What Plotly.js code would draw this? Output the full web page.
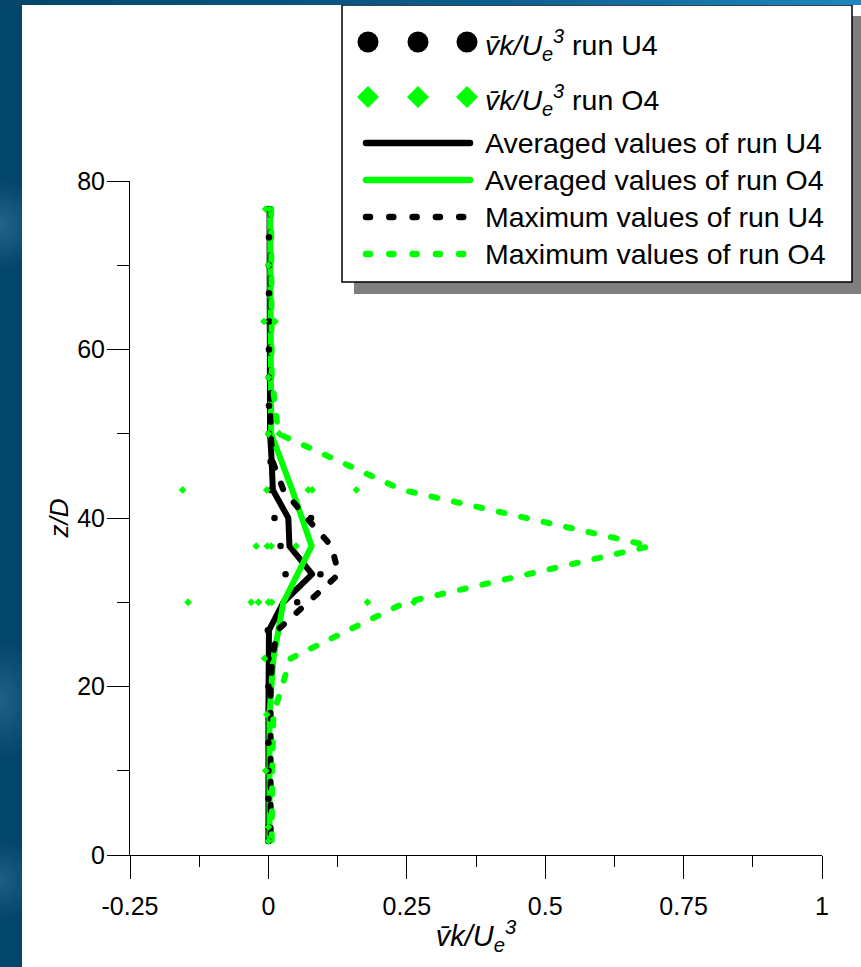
<!DOCTYPE html>
<html><head><meta charset="utf-8">
<script src="https://cdn.plot.ly/plotly-3.0.1.min.js"></script>
<style>
html,body{margin:0;padding:0;}
body{width:861px;height:967px;position:relative;overflow:hidden;
background:
 linear-gradient(to right,#04466b 0%,#0b5c8a 55%,#1c87c0 100%) left top/100% 5px no-repeat,
 radial-gradient(ellipse 40px 45px at 0px 225px,rgba(70,130,170,0.5),rgba(70,130,170,0) 100%) no-repeat,
 radial-gradient(ellipse 40px 60px at 0px 700px,rgba(70,130,170,0.45),rgba(70,130,170,0) 100%) no-repeat,
 radial-gradient(ellipse 40px 40px at 0px 880px,rgba(70,130,170,0.4),rgba(70,130,170,0) 100%) no-repeat,
 #03466b;}
#chart{position:absolute;left:22px;top:5px;width:839px;height:962px;background:#fff;}
</style>
</head><body>
<div id="chart"></div>
<script>
// ---- data ----
const zU4 = [76.67,73.33,70,66.67,63.33,60,56.67,53.33,50,46.67,43.33,40,36.67,33.33,30,26.67,23.33,20,16.67,13.33,10,6.67,3.33,1.67];
const avgU4 = [0.002,0.002,0.002,0.002,0.002,0.002,0.002,0.002,0.003,0.006,0.008,0.036,0.038,0.079,0.027,0.001,0,0,0,0,0,0,0,0];
const maxU4 = [0.004,0.004,0.005,0.005,0.005,0.005,0.005,0.005,0.004,0.008,0.027,0.069,0.114,0.127,0.072,0.016,0.007,0.004,0.004,0.004,0.004,0.004,0.004,0.004];

const zO4 = [76.67,70,63.33,56.67,50,43.33,36.67,30,23.33,16.67,10,3.33,1.67];
const avgO4 = [0.003,0.003,0.003,0.003,0.005,0.043,0.078,0.027,0.009,0.002,0.002,0.002,0.002];
const maxO4 = [0.005,0.006,0.006,0.006,0.018,0.242,0.69,0.248,0.04,0.009,0.007,0.006,0.006];

const ptsU4z = [76.67,73.33,70,66.67,63.33,60,56.67,53.33,50,46.67,43.33,40,40,36.67,33.33,33.33,30,26.67,23.33,20,16.67,13.33,10,6.67,3.33,1.67];
const ptsU4v = [0.001,0.001,0.001,0.001,0.001,0.001,0.001,0.001,0.001,0.004,0.005,0.011,0.077,0.022,0.031,0.094,0.052,-0.001,0,0,0,0,0,0,0,0];

const ptsO4z = [76.67,76.67,70,63.33,63.33,56.67,50,50,43.33,43.33,43.33,43.33,43.33,36.67,36.67,36.67,36.67,30,30,30,30,30,30,30,23.33,16.67,10,3.33,1.67];
const ptsO4v = [-0.005,0.002,0,-0.008,0.012,0,0,0.02,-0.155,-0.003,0.072,0.079,0.159,-0.022,-0.002,0.005,0.05,-0.145,-0.031,-0.018,0,0.006,0.263,0.179,-0.007,-0.003,-0.005,0,0];

const xTicks = [-0.25,0,0.25,0.5,0.75,1];
const xTickText = ['-0.25','0','0.25','0.5','0.75','1'];
const xMinor = [-0.125,0.125,0.375,0.625,0.875];
const yTicks = [0,20,40,60,80];
const yMinor = [10,30,50,70];

const legendLabels = [
  '<i>v\u0304k/U<sub>e</sub><sup>3</sup></i> run U4',
  '<i>v\u0304k/U<sub>e</sub><sup>3</sup></i> run O4',
  'Averaged values of run U4',
  'Averaged values of run O4',
  'Maximum values of run U4',
  'Maximum values of run O4'
];

// ---- styling ----
const GREEN = '#00ff00';
const FONT = 'Liberation Sans, Arial, sans-serif';
const DOT = '6px,17px';

const traces = [
  {x: avgU4, y: zU4, mode:'lines', line:{color:'#000', width:6}, hoverinfo:'skip'},
  {x: avgO4, y: zO4, mode:'lines', line:{color:GREEN, width:6}, hoverinfo:'skip'},
  {x: maxU4, y: zU4, mode:'lines', line:{color:'#000', width:6, dash:DOT}, hoverinfo:'skip'},
  {x: maxO4, y: zO4, mode:'lines', line:{color:GREEN, width:6, dash:DOT}, hoverinfo:'skip'},
  {x: ptsU4v, y: ptsU4z, mode:'markers', marker:{symbol:'circle', size:6.5, color:'#000'}, hoverinfo:'skip'},
  {x: ptsO4v, y: ptsO4z, mode:'markers', marker:{symbol:'diamond', size:6, color:GREEN}, hoverinfo:'skip'}
];

// page-pixel -> paper helpers (plot area: x 130..822, y 181..855 in page pixels)
const px = v => (v - 130) / 692;
const py = v => (855 - v) / 674;

const shapes = [
  {type:'rect', xref:'paper', yref:'paper', x0:px(354), x1:px(880), y0:py(294), y1:py(16), fillcolor:'#7f7f7f', line:{width:0}, layer:'above'},
  {type:'rect', xref:'paper', yref:'paper', x0:px(342), x1:px(852), y0:py(282), y1:py(5), fillcolor:'#ffffff', line:{color:'#000', width:1.5}, layer:'above'}
];
[368,418,467].forEach(cx => {
  shapes.push({type:'circle', xref:'paper', yref:'paper', xsizemode:'pixel', ysizemode:'pixel',
    xanchor:px(cx), yanchor:py(42), x0:-10.5, x1:10.5, y0:-10.5, y1:10.5, fillcolor:'#000', line:{width:0}, layer:'above'});
  shapes.push({type:'path', xref:'paper', yref:'paper', xsizemode:'pixel', ysizemode:'pixel',
    xanchor:px(cx), yanchor:py(97), path:'M0,11L11,0L0,-11L-11,0Z', fillcolor:GREEN, line:{width:0}, layer:'above'});
});
const lineRows = [[143,'#000',null],[180,GREEN,null],[217,'#000','4px,19.3px'],[254,GREEN,'4px,19.3px']];
lineRows.forEach(([yy,c,d]) => {
  shapes.push({type:'line', xref:'paper', yref:'paper', x0:px(366), x1:px(470), y0:py(yy), y1:py(yy),
    line:{color:c, width:6.5, dash: d || 'solid'}, layer:'above'});
});

const rowY = [45,100,143,180,217,254];
const annotations = legendLabels.map((t,i) => ({
  xref:'paper', yref:'paper', x:px(483), y:py(rowY[i]), xanchor:'left', yanchor:'middle',
  text:t, showarrow:false, font:{family:FONT, size:28.5, color:'#000'}
}));

const layout = {
  width:839, height:962,
  margin:{l:108, r:39, t:176, b:112},
  paper_bgcolor:'rgba(0,0,0,0)', plot_bgcolor:'#fff',
  showlegend:false,
  font:{family:FONT, color:'#000'},
  xaxis:{range:[-0.25,1], tickmode:'array', tickvals:xTicks, ticktext:xTickText,
    ticks:'outside', ticklen:23, tickwidth:1, tickcolor:'#000',
    showline:true, linecolor:'#000', linewidth:1, zeroline:false, showgrid:false,
    minor:{tickmode:'array', tickvals:xMinor, ticks:'outside', ticklen:11, tickwidth:1, tickcolor:'#000', showgrid:false},
    tickfont:{family:FONT, size:25, color:'#000'}, ticklabelstandoff:6,
    title:{text:'<i>v\u0304k/U<sub>e</sub><sup>3</sup></i>', font:{family:FONT, size:29, color:'#000'}, standoff:6}},
  yaxis:{range:[0,80], tickmode:'array', tickvals:yTicks,
    ticks:'outside', ticklen:22, tickwidth:1, tickcolor:'#000',
    showline:true, linecolor:'#000', linewidth:1, zeroline:false, showgrid:false,
    minor:{tickmode:'array', tickvals:yMinor, ticks:'outside', ticklen:12, tickwidth:1, tickcolor:'#000', showgrid:false},
    tickfont:{family:FONT, size:25, color:'#000'}, ticklabelstandoff:-3,
    title:{text:'<i>z/D</i>', font:{family:FONT, size:26, color:'#000'}, standoff:1}},
  shapes:shapes,
  annotations:annotations
};

Plotly.newPlot('chart', traces, layout, {staticPlot:true, displayModeBar:false}).then(gd => {
  gd.querySelectorAll('.scatterlayer .js-line').forEach(p => {p.style.strokeLinecap='round'; p.style.strokeLinejoin='round';});
  gd.querySelectorAll('.shapelayer path').forEach(p => {p.style.strokeLinecap='round';});
});
</script>
</body></html>
